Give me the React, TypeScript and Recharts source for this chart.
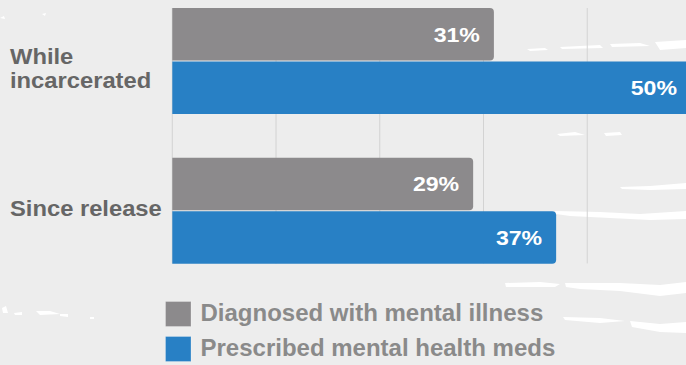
import React from "react";
import { BarChart, Bar, XAxis, YAxis, CartesianGrid, LabelList, Legend } from "recharts";

// Survey groups (line breaks mark how the axis label wraps)
const categories = ["While\nincarcerated", "Since release"];
// Share of respondents, in percent
const diagnosedValues = [31, 29];
const prescribedValues = [50, 37];
const seriesNames = ["Diagnosed with mental illness", "Prescribed mental health meds"];
const xTicks = [0, 10, 20, 30, 40, 50];

const data = categories.map((c, i) => ({
  group: c,
  diagnosed: diagnosedValues[i],
  prescribed: prescribedValues[i],
}));

const FONT = "'Liberation Sans', Arial, Helvetica, sans-serif";
const GRAY = "#8c8a8c";
const BLUE = "#2880c5";
const BG = "#ededed";

// Chart block is shifted up so that the bar groups sit where the grid trims them.
const SHIFT = 14;
const GRID_TRIM_TOP = 22;
const GRID_TRIM_BOTTOM = 22;
// Axis and value labels use a slightly widened face
const WIDEN = 1.08;

const CategoryTick = (props: any) => {
  const { y, payload } = props;
  const lines: string[] = String(payload.value).split("\n");
  const n = lines.length;
  return (
    <g>
      {lines.map((ln, i) => (
        <text
          key={i}
          transform={`translate(10, ${y + 5.5 - (n - 1) * 2.3 + i * 24.3}) scale(${WIDEN}, 1)`}
          textAnchor="start"
          fill="#666666"
          fontFamily={FONT}
          fontWeight="bold"
          fontSize={22}
        >
          {ln}
        </text>
      ))}
    </g>
  );
};

const ValueLabel = (props: any) => {
  const { x, y, width, height, value } = props;
  const right = x + width - 14;
  const mid = y + height / 2 + 7.5;
  return (
    <text
      transform={`translate(${right}, ${mid}) scale(${WIDEN + 0.02}, 1)`}
      textAnchor="end"
      fill="#ffffff"
      fontFamily={FONT}
      fontWeight="bold"
      fontSize={21}
    >
      {`${value}%`}
    </text>
  );
};

const GridLine = (props: any) => {
  const { x1, x2, y1, y2, key } = props;
  return (
    <line
      key={key}
      x1={x1}
      x2={x2}
      y1={y1 + GRID_TRIM_TOP}
      y2={y2 - GRID_TRIM_BOTTOM}
      stroke="#d3d3d3"
      strokeWidth={1}
    />
  );
};

const LegendContent = (props: any) => {
  const items = props.payload || [];
  return (
    <svg width={420} height={64} style={{ display: "block", overflow: "visible" }}>
      {items.map((it: any, i: number) => (
        <g key={i} transform={`translate(0, ${i * 35})`}>
          <rect x={0.5} y={0.5} width={25.5} height={25} fill={it.color} stroke="rgba(255,255,255,0.25)" />
          <text
            x={35.5}
            y={20.3}
            fill="#8a8a8a"
            fontFamily={FONT}
            fontWeight="bold"
            fontSize={24}
          >
            {it.value}
          </text>
        </g>
      ))}
    </svg>
  );
};

// White grunge streaks painted on the backdrop
const streaks = [
  "M527,49 L545,48 L548,50 L530,51 Z",
  "M560,47 L600,45 L603,48 L562,49 Z",
  "M610,44 L640,43 L650,46 L612,47 Z",
  "M655,42 L686,40 L686,48 L660,50 Z",
  "M557,134 L575,132 L585,135 L560,136 Z",
  "M604,133 L620,132 L622,135 L606,136 Z",
  "M620,187 L650,186 L686,183 L686,189 L650,190 L622,189 Z",
  "M555,211 L600,212 L640,214 L686,211 L686,219 L650,220 L610,218 L570,216 L556,214 Z",
  "M505,283 L540,282 L560,284 L555,287 L506,287 Z",
  "M565,283 L620,283 L660,285 L686,282 L686,293 L660,296 L620,291 L580,289 L566,287 Z",
  "M563,317 L600,318 L625,321 L600,323 L565,320 Z",
  "M630,321 L660,324 L686,322 L686,333 L660,332 L632,327 Z",
  "M2,308 L6,306 L8,313 L3,313 Z",
  "M14,313 L22,312 L22,315 L15,315 Z",
  "M36,311 L50,311 L60,314 L40,315 Z",
  "M60,314 L68,314 L68,317 L60,316 Z",
  "M90,317 L94,317 L94,319 L90,319 Z",
  "M0,18 L4,16 L5,19 Z",
  "M42,14 L46,13 L45,16 Z",
];

export default function App() {
  return (
    <div
      style={{
        position: "absolute",
        left: 0,
        top: 0,
        width: 686,
        height: 365,
        overflow: "hidden",
        background: BG,
      }}
    >
      <svg width={686} height={365} style={{ position: "absolute", left: 0, top: 0 }}>
        {streaks.map((d, i) => (
          <path key={i} d={d} fill="#ffffff" />
        ))}
      </svg>
      <div style={{ position: "absolute", left: 0, top: -SHIFT }}>
        <BarChart
          width={691}
          height={379}
          data={data}
          layout="vertical"
          margin={{ top: 0, right: 0, bottom: 79.6, left: 0 }}
          barGap={1}
        >
          <CartesianGrid horizontal={false} vertical={GridLine} />
          <XAxis type="number" domain={[0, 50]} ticks={xTicks} hide />
          <YAxis
            type="category"
            dataKey="group"
            width={172.3}
            axisLine={false}
            tickLine={false}
            tick={<CategoryTick />}
            interval={0}
          />
          <Legend
            layout="horizontal"
            verticalAlign="middle"
            align="center"
            content={<LegendContent />}
            wrapperStyle={{ position: "absolute", left: 165.2, top: 301 + SHIFT, width: 420, height: 64 }}
          />
          <Bar
            dataKey="diagnosed"
            name={seriesNames[0]}
            fill={GRAY}
            barSize={52.5}
            radius={[0, 4, 4, 0]}
            isAnimationActive={false}
          >
            <LabelList dataKey="diagnosed" content={<ValueLabel />} />
          </Bar>
          <Bar
            dataKey="prescribed"
            name={seriesNames[1]}
            fill={BLUE}
            barSize={52.5}
            radius={[0, 4, 4, 0]}
            isAnimationActive={false}
          >
            <LabelList dataKey="prescribed" content={<ValueLabel />} />
          </Bar>
        </BarChart>
      </div>
    </div>
  );
}
